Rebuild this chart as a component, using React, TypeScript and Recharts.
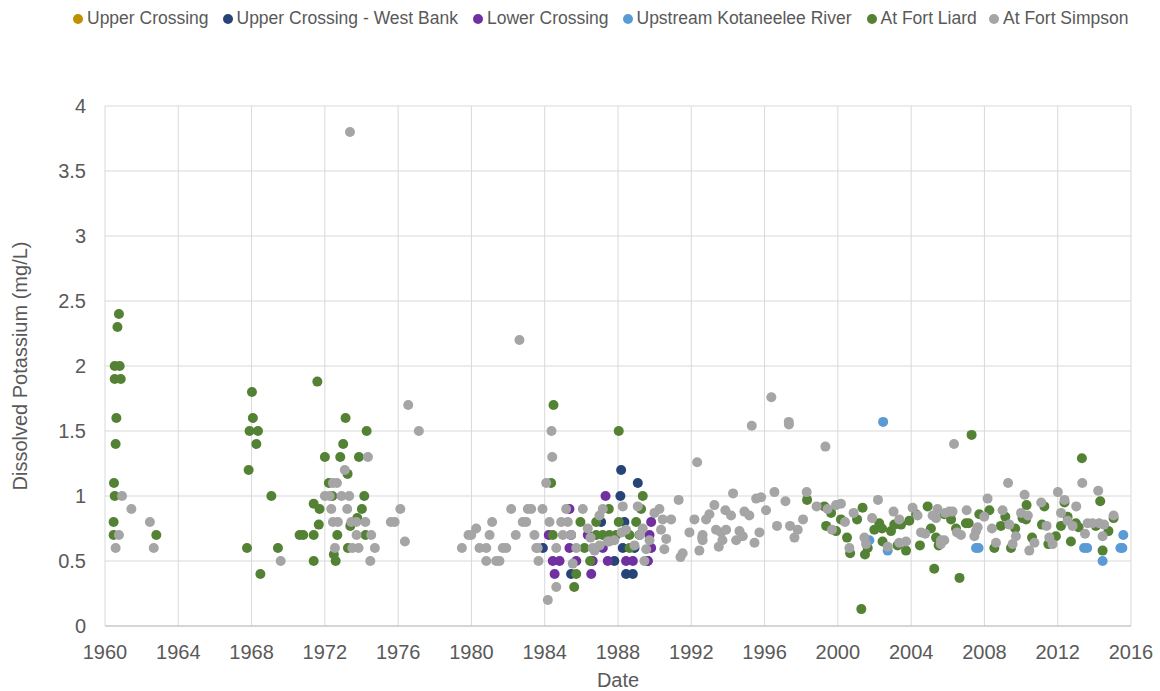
import React from 'react';
import { ScatterChart, Scatter, XAxis, YAxis, CartesianGrid } from 'recharts';

type Pt = [number, number];

const upperCrossing: Pt[] = [];

const upperCrossingWestBank: Pt[] = [
  [1983.9, 0.6], [1988.17, 1.2], [1989.08, 1.1], [1988.13, 1.0], [1987.08, 0.8], [1988.35, 0.8],
  [1988.26, 0.6], [1988.9, 0.6], [1987.8, 0.5], [1989.62, 0.5], [1985.44, 0.4], [1988.44, 0.4], [1988.81, 0.4],
];

const lowerCrossing: Pt[] = [
  [1987.32, 1.0], [1989.81, 0.8], [1985.35, 0.9], [1984.22, 0.7], [1985.44, 0.7], [1986.35, 0.7], [1989.72, 0.7],
  [1985.35, 0.6], [1987.17, 0.6], [1989.81, 0.6], [1984.44, 0.5], [1984.81, 0.5], [1985.72, 0.5], [1986.62, 0.5],
  [1987.44, 0.5], [1988.44, 0.5], [1988.81, 0.5], [1989.62, 0.5], [1984.54, 0.4], [1986.54, 0.4],
];

const upstreamKotaneelee: Pt[] = [
  [2002.47, 1.57], [2001.72, 0.66], [2002.72, 0.58], [2007.54, 0.6], [2007.68, 0.6], [2013.44, 0.6], [2013.61, 0.6],
  [2014.45, 0.5], [2015.42, 0.6], [2015.53, 0.6], [2015.58, 0.7],
];

const fortLiard: Pt[] = [
  [1960.49, 1.1], [1960.53, 1.0], [1960.47, 0.8], [1960.47, 0.7], [1960.58, 1.4], [1960.62, 1.6], [1960.53, 1.9],
  [1960.86, 1.9], [1960.53, 2.0], [1960.8, 2.0], [1960.68, 2.3], [1960.76, 2.4], [1962.8, 0.7],
  [1968.02, 1.8], [1968.07, 1.6], [1967.89, 1.5], [1968.35, 1.5], [1968.26, 1.4], [1967.84, 1.2], [1969.08, 1.0],
  [1967.75, 0.6], [1969.44, 0.6], [1968.48, 0.4], [1970.62, 0.7],
  [1971.59, 1.88], [1973.13, 1.6], [1974.28, 1.5], [1973.0, 1.4], [1972.0, 1.3], [1972.84, 1.3], [1973.86, 1.3],
  [1973.24, 1.17], [1972.22, 1.1], [1972.41, 1.0], [1974.15, 1.0], [1971.39, 0.94], [1971.71, 0.9], [1974.02, 0.9],
  [1973.77, 0.83], [1971.67, 0.78], [1973.39, 0.77], [1970.82, 0.7], [1971.39, 0.7], [1972.68, 0.7], [1974.22, 0.7],
  [1973.26, 0.6], [1972.49, 0.55], [1972.59, 0.5], [1971.39, 0.5],
  [1984.35, 1.1], [1984.48, 1.7], [1985.61, 0.3], [1988.04, 1.5], [1989.35, 1.0], [1987.5, 0.9], [1989.26, 0.9],
  [1985.95, 0.8], [1986.81, 0.8], [1988.04, 0.8], [1988.99, 0.8], [1984.44, 0.7], [1986.81, 0.7], [1987.17, 0.7],
  [1987.53, 0.7], [1987.9, 0.7], [1988.63, 0.7], [1989.17, 0.7], [1986.17, 0.6], [1988.63, 0.6], [1986.48, 0.5],
  [1985.72, 0.4],
  [1998.32, 0.97], [1999.26, 0.92], [1999.63, 0.87], [1999.36, 0.77], [1999.9, 0.73], [2000.17, 0.82], [2000.5, 0.68],
  [2001.05, 0.82], [2001.35, 0.91], [2002.26, 0.79], [2001.99, 0.74], [2002.41, 0.75], [2001.63, 0.6], [2000.67, 0.56],
  [2001.48, 0.55], [2002.44, 0.65], [2002.9, 0.73], [2003.08, 0.78], [2003.45, 0.78], [2003.9, 0.81], [2004.27, 0.86],
  [2003.26, 0.62], [2003.72, 0.58], [2004.48, 0.62], [2004.9, 0.92], [2005.08, 0.75], [2005.26, 0.44], [2005.36, 0.68],
  [2005.5, 0.62], [2005.81, 0.86], [2001.28, 0.13], [2006.18, 0.82], [2006.45, 0.75], [2006.64, 0.37], [2006.99, 0.79],
  [2007.14, 0.79], [2007.3, 1.47], [2007.72, 0.86], [2008.27, 0.89], [2008.54, 0.6], [2008.9, 0.77], [2009.14, 0.84],
  [2009.68, 0.75], [2009.45, 0.6], [2010.08, 0.83], [2010.27, 0.82], [2010.3, 0.93], [2010.6, 0.68], [2011.14, 0.78],
  [2011.27, 0.92], [2011.49, 0.63], [2011.9, 0.69], [2012.18, 0.77], [2012.37, 0.95], [2012.54, 0.84], [2012.72, 0.65],
  [2012.99, 0.79], [2013.14, 0.76], [2013.32, 1.29], [2014.08, 0.77], [2014.32, 0.96], [2014.45, 0.58], [2014.77, 0.73],
  [2015.05, 0.83],
];

const fortSimpson: Pt[] = [
  [1960.93, 1.0], [1961.44, 0.9], [1960.76, 0.7], [1960.58, 0.6], [1962.45, 0.8], [1962.66, 0.6], [1969.59, 0.5],
  [1973.37, 3.8], [1976.55, 1.7], [1977.13, 1.5], [1974.35, 1.3], [1973.09, 1.2], [1972.44, 1.1], [1972.66, 1.1],
  [1972.0, 1.0], [1972.26, 1.0], [1972.91, 1.0], [1973.33, 1.0], [1972.35, 0.9], [1973.22, 0.9], [1976.12, 0.9],
  [1972.44, 0.8], [1972.71, 0.8], [1973.44, 0.8], [1973.72, 0.8], [1974.21, 0.8], [1975.6, 0.8], [1975.81, 0.8],
  [1973.73, 0.7], [1974.53, 0.7], [1972.55, 0.6], [1973.5, 0.6], [1973.84, 0.6], [1974.73, 0.6], [1976.37, 0.65],
  [1974.48, 0.5],
  [1982.62, 2.2], [1982.17, 0.9], [1983.08, 0.9], [1983.26, 0.9], [1983.88, 0.9], [1985.17, 0.9], [1981.13, 0.8],
  [1982.8, 0.8], [1982.99, 0.8], [1980.26, 0.75], [1979.84, 0.7], [1979.99, 0.7], [1980.99, 0.7], [1982.42, 0.7],
  [1983.44, 0.7], [1979.48, 0.6], [1980.44, 0.6], [1980.81, 0.6], [1981.71, 0.6], [1981.9, 0.6], [1983.62, 0.6],
  [1980.81, 0.5], [1981.35, 0.5], [1981.53, 0.5], [1983.66, 0.5], [1984.08, 1.1], [1984.37, 1.5], [1984.41, 1.3],
  [1984.63, 0.3], [1984.17, 0.2],
  [1986.08, 0.9], [1987.17, 0.9], [1988.26, 0.92], [1989.08, 0.92], [1990.26, 0.9], [1991.31, 0.97], [1993.26, 0.93],
  [1984.26, 0.8], [1984.9, 0.8], [1985.26, 0.8], [1986.35, 0.75], [1986.99, 0.85], [1989.35, 0.75], [1989.99, 0.87],
  [1990.44, 0.82], [1990.9, 0.82], [1992.17, 0.82], [1984.99, 0.7], [1985.44, 0.7], [1987.53, 0.65], [1988.44, 0.74],
  [1989.72, 0.66], [1990.35, 0.74], [1990.63, 0.67], [1991.9, 0.72], [1992.59, 0.68], [1993.35, 0.74], [1983.54, 0.6],
  [1984.63, 0.6], [1985.72, 0.6], [1986.62, 0.6], [1986.72, 0.58], [1987.44, 0.65], [1989.54, 0.59], [1990.53, 0.59],
  [1991.53, 0.56], [1992.44, 0.58], [1993.5, 0.61], [1985.53, 0.48], [1989.44, 0.5], [1991.41, 0.53], [1992.32, 1.26],
  [1986.5, 0.68], [1987.0, 0.62], [1987.8, 0.66], [1988.2, 0.72], [1988.9, 0.62], [1989.2, 0.7],
  [1996.37, 1.76], [1995.3, 1.54], [1997.32, 1.57], [1997.33, 1.55], [1999.32, 1.38], [1994.28, 1.02], [1996.54, 1.03],
  [1995.54, 0.98], [1995.81, 0.99], [1996.08, 0.89], [1997.14, 0.96], [1998.3, 1.03], [1993.86, 0.89], [1994.17, 0.85],
  [1994.9, 0.88], [1995.17, 0.85], [1992.81, 0.82], [1992.99, 0.86], [1993.63, 0.72], [1993.9, 0.74], [1992.62, 0.7],
  [1992.62, 0.66], [1993.7, 0.66], [1994.45, 0.66], [1994.63, 0.73], [1994.81, 0.69], [1995.45, 0.64], [1995.72, 0.72],
  [1996.68, 0.77], [1997.39, 0.77], [1997.81, 0.74], [1997.63, 0.68], [1998.1, 0.82], [1998.84, 0.92], [1999.44, 0.9],
  [1999.9, 0.93], [2000.17, 0.94], [1999.68, 0.74], [2000.39, 0.8], [2000.86, 0.87], [2002.19, 0.97], [2001.87, 0.83],
  [2001.45, 0.68], [2001.54, 0.63], [2000.63, 0.6], [2002.72, 0.61], [2003.04, 0.88], [2003.35, 0.82], [2004.08, 0.91],
  [2004.35, 0.85], [2003.35, 0.64], [2003.72, 0.65], [2004.54, 0.72], [2004.77, 0.71], [2005.44, 0.9], [2005.17, 0.85],
  [2005.36, 0.83], [2005.63, 0.66], [2005.81, 0.66], [2005.86, 0.87], [2005.62, 0.63], [2006.34, 1.4], [2009.29, 1.1],
  [2013.34, 1.1], [2014.21, 1.04], [2012.01, 1.03], [2010.19, 1.01], [2008.17, 0.98], [2011.1, 0.95], [2012.37, 0.97],
  [2013.01, 0.92], [2006.08, 0.88], [2006.26, 0.88], [2006.5, 0.72], [2006.72, 0.7], [2007.03, 0.89], [2007.99, 0.84],
  [2007.63, 0.76], [2007.54, 0.73], [2007.45, 0.69], [2008.41, 0.75], [2008.63, 0.64], [2008.99, 0.89], [2009.36, 0.78],
  [2009.72, 0.69], [2009.54, 0.63], [2010.0, 0.87], [2010.37, 0.85], [2010.45, 0.58], [2010.73, 0.64], [2011.39, 0.77],
  [2011.54, 0.68], [2011.72, 0.63], [2012.18, 0.87], [2012.54, 0.81], [2012.81, 0.77], [2013.49, 0.71], [2013.63, 0.79],
  [2013.9, 0.79], [2014.26, 0.79], [2014.53, 0.78], [2014.45, 0.69], [2015.05, 0.85],
];

const xTicks = [1960, 1964, 1968, 1972, 1976, 1980, 1984, 1988, 1992, 1996, 2000, 2004, 2008, 2012, 2016];
const yTicks = [0, 0.5, 1, 1.5, 2, 2.5, 3, 3.5, 4];

const seriesNames = [
  'Upper Crossing',
  'Upper Crossing - West Bank',
  'Lower Crossing',
  'Upstream Kotaneelee River',
  'At Fort Liard',
  'At Fort Simpson',
];
const seriesColors = ['#BF9000', '#264478', '#7030A0', '#5B9BD5', '#548235', '#A5A5A5'];
const seriesData = [upperCrossing, upperCrossingWestBank, lowerCrossing, upstreamKotaneelee, fortLiard, fortSimpson];

// legend item left edges (layout only)
const legendLefts = [73, 222.5, 473, 622.5, 866.5, 989];

const FONT = '"Liberation Sans", Arial, sans-serif';
const TEXT = '#595959';

export default function App() {
  const series = seriesNames.map((name, i) => ({
    name,
    color: seriesColors[i],
    data: seriesData[i].map(([x, y]) => ({ x, y })),
  }));

  return (
    <div style={{ position: 'absolute', left: 0, top: 0, width: 1160, height: 691, background: '#fff' }}>
      <ScatterChart
        width={1160}
        height={691}
        margin={{ top: 106, right: 29, bottom: 0, left: 0 }}
      >
        <CartesianGrid stroke="#d9d9d9" strokeWidth={1} />
        <XAxis
          type="number"
          dataKey="x"
          domain={[1960, 2016]}
          ticks={xTicks}
          allowDataOverflow
          height={65}
          tickLine={false}
          tickSize={0}
          tickMargin={19}
          axisLine={{ stroke: '#bfbfbf' }}
          tick={{ fill: TEXT, fontSize: 20, fontFamily: FONT }}
          label={{ value: 'Date', position: 'insideBottom', offset: 4, style: { fill: TEXT, fontSize: 20, fontFamily: FONT } }}
        />
        <YAxis
          type="number"
          dataKey="y"
          domain={[0, 4]}
          ticks={yTicks}
          allowDataOverflow
          width={105}
          tickLine={false}
          tickSize={0}
          tickMargin={19}
          axisLine={false}
          tick={{ fill: TEXT, fontSize: 20, fontFamily: FONT }}
          label={{
            value: 'Dissolved Potassium (mg/L)',
            angle: -90,
            position: 'insideLeft',
            offset: 20,
            style: { textAnchor: 'middle', fill: TEXT, fontSize: 20, fontFamily: FONT },
          }}
        />
        {series.map((s) => (
          <Scatter
            key={s.name}
            name={s.name}
            data={s.data}
            fill={s.color}
            isAnimationActive={false}
            shape={(p: any) => <circle cx={p.cx} cy={p.cy} r={5} fill={s.color} />}
          />
        ))}
      </ScatterChart>
      {series.map((s, i) => (
        <div
          key={s.name}
          style={{
            position: 'absolute',
            left: legendLefts[i],
            top: 8,
            display: 'flex',
            alignItems: 'center',
            fontFamily: FONT,
            fontSize: 17.5,
            lineHeight: '21px',
            color: TEXT,
            whiteSpace: 'nowrap',
          }}
        >
          <span
            style={{
              display: 'inline-block',
              width: 10,
              height: 10,
              borderRadius: '50%',
              background: s.color,
              marginRight: 4,
            }}
          />
          <span>{s.name}</span>
        </div>
      ))}
    </div>
  );
}
